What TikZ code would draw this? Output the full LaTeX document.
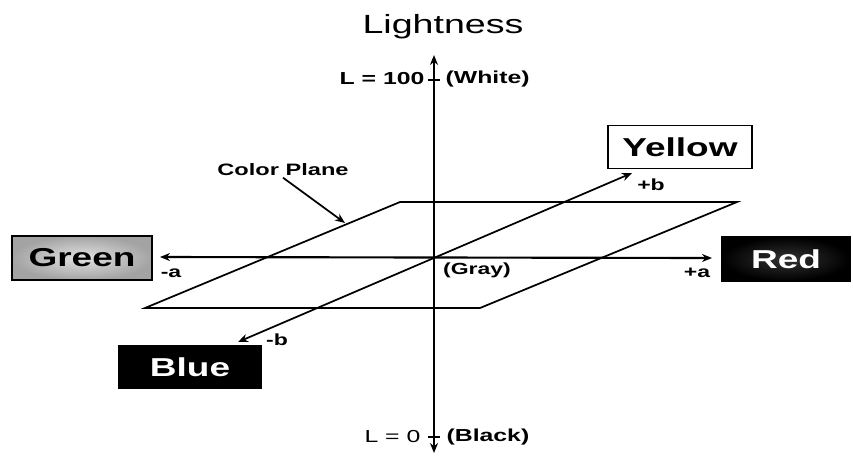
\documentclass[tikz,border=0pt]{standalone}
\usepackage{fontspec}
\setmainfont{Liberation Sans}
\usepackage{graphicx}
\usetikzlibrary{arrows.meta}
\newcommand{\wide}[1]{\scalebox{1.5}[1.05]{#1}}

\begin{document}
\begin{tikzpicture}[x=0.75pt,y=-0.75pt,>={Stealth[length=7.5pt,width=6pt]},
  axis/.style={line width=1.6pt},
  pln/.style={line width=1.3pt},
  lbl/.style={font=\fontsize{11.5}{12}\selectfont\bfseries,inner sep=1pt},
  endlbl/.style={font=\fontsize{12.4}{13}\selectfont\bfseries,inner sep=1pt},
  tag/.style={font=\fontsize{18.5}{20}\selectfont\bfseries,minimum height=33pt,inner sep=0pt,line width=1.2pt},
]
\useasboundingbox (0,0) rectangle (853,455);

\coordinate (O) at (434,258);
\coordinate (Ltop) at (434,55);
\coordinate (Lbot) at (434,453);
\coordinate (Lhi) at (434,80);
\coordinate (Llo) at (434,437);
\coordinate (Aneg) at (160,257);
\coordinate (Apos) at (712,258);
\coordinate (Bneg) at (238,342);
\coordinate (Bpos) at (632,173);

% color plane
\coordinate (P1) at (400,202);
\coordinate (P2) at (737,202);
\coordinate (P3) at (480,308);
\coordinate (P4) at (145,308);
\draw[pln] (P1) -- (P2) -- (P3) -- (P4) -- cycle;

% axes
\draw[axis,<->] (Lbot) -- (Ltop);
\draw[axis,<->] (Aneg) -- (Apos);
\draw[pln,<->] (Bneg) -- (Bpos);
\draw[line width=1.1pt] (Lhi) ++(-6,0) -- ++(12,0);
\draw[line width=1.1pt] (Llo) ++(-6,0) -- ++(12,0);

\node[font=\fontsize{18.8}{20}\selectfont] (title) at (443,27) {\wide{Lightness}};
\node[endlbl,anchor=east] (Lmax) at (426,79) {\wide{L = 100}};
\node[endlbl,anchor=west] (white) at (444,79) {\wide{(White)}};
\node[endlbl,font=\fontsize{12.4}{13}\selectfont,anchor=east] (Lmin) at (422,437) {\wide{L = 0}};
\node[endlbl,anchor=west] (black) at (445,437) {\wide{(Black)}};

\node[tag,draw=black,inner color=gray!22,outer color=gray!72,minimum width=105pt] (green) at (82,258) {\wide{Green}};
\node[tag,draw=black,inner color=gray!40!black,outer color=black,text=white,minimum width=96pt] (red) at (786,259) {\wide{Red}};
\node[tag,fill=black,text=white,minimum width=108pt] (blue) at (190,367) {\wide{Blue}};
\node[tag,draw=black,fill=white,minimum width=108pt,minimum height=32pt] (yellow) at (680,147) {\wide{Yellow}};

\node[lbl] (aneg) at (171,273) {\wide{-a}};
\node[lbl] (apos) at (697,273) {\wide{+a}};
\node[lbl] (bpos) at (651,185) {\wide{+b}};
\node[lbl] (bneg) at (277,340) {\wide{-b}};
\node[lbl] (gray) at (477,270) {\wide{(Gray)}};

\node[lbl,font=\fontsize{11.8}{12}\selectfont\bfseries] (cplane) at (283,170) {\wide{Color Plane}};
\coordinate (tip) at (345,223);
\draw[pln,->] (cplane.south) -- (tip);

\end{tikzpicture}
\end{document}
